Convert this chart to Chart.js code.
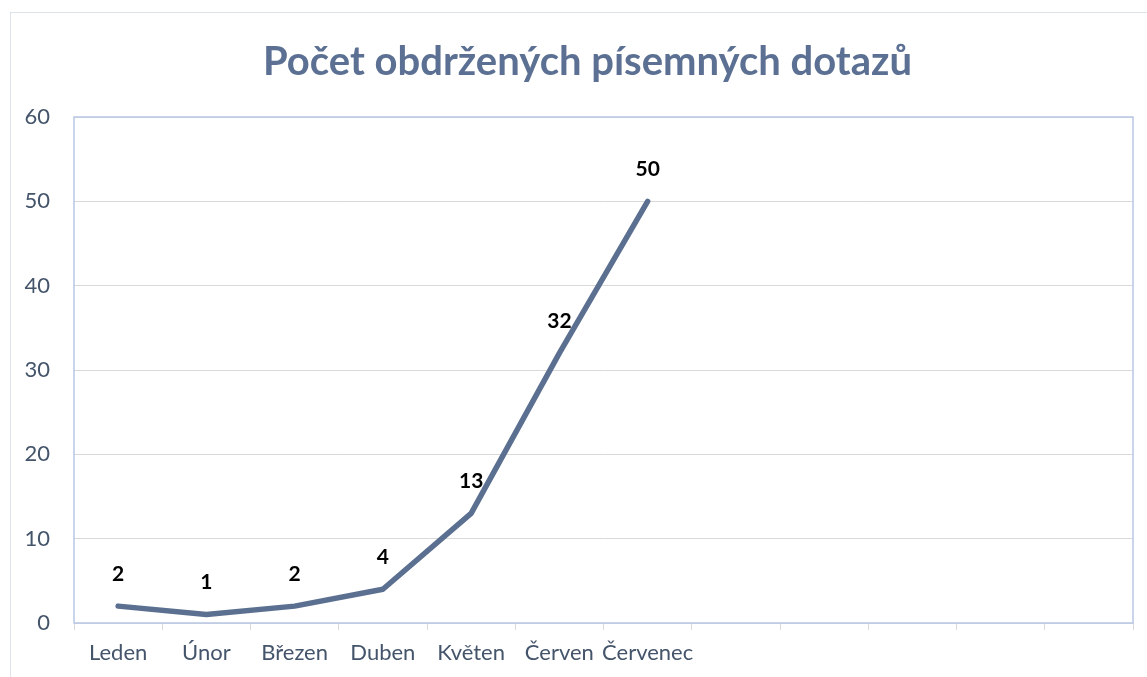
<!DOCTYPE html>
<html>
<head>
<meta charset="utf-8">
<script src="https://cdn.jsdelivr.net/npm/chart.js@4"></script>
<style>
  html, body { margin: 0; padding: 0; background: #fff; overflow: hidden; }
  #frame { position: absolute; left: 10px; top: 12px; width: 1150px; height: 700px; border: 1px solid #dde3ea; }
  #wrap { position: absolute; left: 0; top: 0; width: 1175px; height: 677px; }
</style>
</head>
<body>
<div id="frame"></div>
<div id="wrap"><canvas id="chart"></canvas></div>
<script>
// Données du graphique
const chartTitle = 'Počet obdržených písemných dotazů';
const months = ['Leden', 'Únor', 'Březen', 'Duben', 'Květen', 'Červen', 'Červenec', '', '', '', '', ''];
const queries = [2, 1, 2, 4, 13, 32, 50, null, null, null, null, null];
const yTicks = [0, 10, 20, 30, 40, 50, 60];

const lineColor = '#5b7090';
const textColor = '#44546a';

// Cadre de la zone de tracé
const plotBorder = {
    id: 'plotBorder',
    beforeDatasetsDraw(chart) {
        const { ctx, chartArea: a } = chart;
        ctx.save();
        ctx.strokeStyle = '#b8c7e4';
        ctx.lineWidth = 1.5;
        ctx.strokeRect(a.left, a.top, a.right - a.left, a.bottom - a.top);
        ctx.restore();
    }
};

// Étiquettes des valeurs au-dessus des points
const valueLabels = {
    id: 'valueLabels',
    afterDatasetsDraw(chart) {
        const { ctx } = chart;
        const meta = chart.getDatasetMeta(0);
        ctx.save();
        ctx.font = 'bold 21px Lato';
        ctx.fillStyle = '#000';
        ctx.textAlign = 'center';
        ctx.textBaseline = 'middle';
        meta.data.forEach((pt, i) => {
            const v = queries[i];
            if (v === null) return;
            ctx.fillText(String(v), pt.x, pt.y - 32);
        });
        ctx.restore();
    }
};

new Chart(document.getElementById('chart'), {
    type: 'line',
    data: {
        labels: months,
        datasets: [{
            data: queries,
            borderColor: lineColor,
            borderWidth: 5.5,
            borderCapStyle: 'round',
            borderJoinStyle: 'round',
            pointRadius: 0,
            tension: 0,
            fill: false
        }]
    },
    options: {
        responsive: true,
        maintainAspectRatio: false,
        animation: false,
        layout: { padding: 0 },
        plugins: {
            legend: { display: false },
            tooltip: { enabled: false },
            title: {
                display: true,
                text: chartTitle,
                color: '#5b7092',
                font: { family: 'Lato', size: 40, weight: 'bold' },
                padding: { top: 38, bottom: 31 }
            }
        },
        scales: {
            x: {
                offset: true,
                border: { display: false },
                grid: {
                    offset: true,
                    drawOnChartArea: false,
                    drawTicks: true,
                    tickLength: 7,
                    color: '#d9d9d9'
                },
                ticks: {
                    color: textColor,
                    font: { family: 'Lato', size: 22 },
                    padding: 10,
                    maxRotation: 0,
                    autoSkip: false
                },
                afterFit(scale) { scale.height = 54; }
            },
            y: {
                min: 0,
                max: 60,
                border: { display: false },
                grid: { color: '#d9d9d9', drawTicks: false },
                afterBuildTicks(scale) { scale.ticks = yTicks.map(v => ({ value: v })); },
                ticks: {
                    color: textColor,
                    font: { family: 'Lato', size: 22 },
                    padding: 24
                },
                afterFit(scale) { scale.width = 74; }
            },
            // axe vide à droite pour centrer le titre comme l'original
            yPad: {
                position: 'right',
                display: true,
                border: { display: false },
                grid: { display: false },
                ticks: { display: false },
                afterFit(scale) { scale.width = 42; }
            }
        }
    },
    plugins: [plotBorder, valueLabels]
});
</script>
</body>
</html>
